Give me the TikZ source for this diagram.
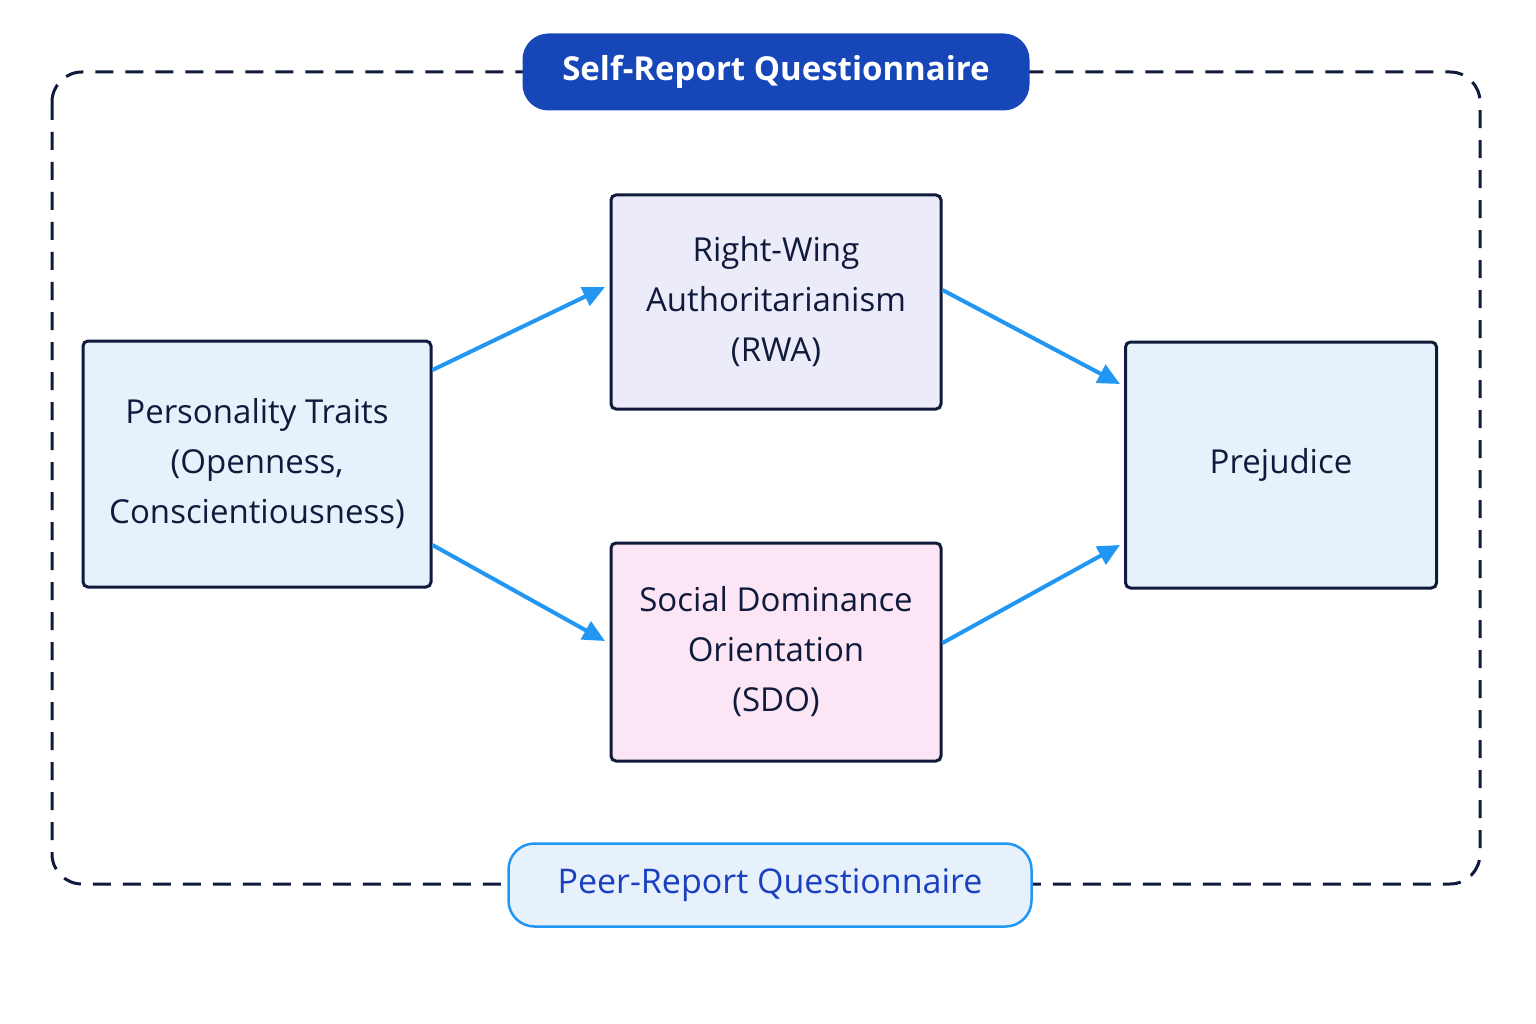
\documentclass[tikz,border=0pt]{standalone}
\usepackage{fontspec}
\setmainfont{Open Sans}
\usetikzlibrary{arrows.meta}
\definecolor{navy}{HTML}{101B3C}
\definecolor{dblue}{HTML}{1746B8}
\definecolor{arr}{HTML}{2196F3}
\definecolor{lblue}{HTML}{E6F1FC}
\definecolor{lpurp}{HTML}{ECEBFA}
\definecolor{lpink}{HTML}{FCE6F6}
\definecolor{pblue}{HTML}{1A3FBF}
\begin{document}
\begin{tikzpicture}[x=1pt,y=-1pt,
  box/.style={draw=navy,line width=3pt,rounded corners=5pt,text=navy,align=center,font=\fontsize{33}{50}\selectfont,inner sep=0pt},
  conn/.style={draw=arr,line width=4pt,-{Triangle[length=22pt,width=20pt]}}]
\fill[white] (0,0) rectangle (1536,1024);
\draw[navy,line width=3pt,dash pattern=on 18pt off 12pt,rounded corners=30pt] (52,72) rectangle (1480,884);
\node[box,fill=lblue,minimum width=348pt,minimum height=246pt] (pt) at (257,464) {Personality Traits\\(Openness,\\Conscientiousness)};
\node[box,fill=lpurp,minimum width=330pt,minimum height=214pt] (rwa) at (776,302) {Right-Wing\\Authoritarianism\\(RWA)};
\node[box,fill=lpink,minimum width=330pt,minimum height=218pt] (sdo) at (776,652) {Social Dominance\\Orientation\\(SDO)};
\node[box,fill=lblue,minimum width=311pt,minimum height=246pt] (pr) at (1281,465) {Prejudice};
\node[fill=dblue,text=white,rounded corners=26pt,minimum width=507pt,minimum height=77pt,font=\fontsize{33}{40}\selectfont\bfseries] (self) at (776,72) {Self-Report Questionnaire};
\node[fill=lblue,draw=arr,line width=2.5pt,text=pblue,rounded corners=26pt,minimum width=523pt,minimum height=83pt,font=\fontsize{34}{40}\selectfont] (peer) at (770,885) {Peer-Report Questionnaire};
\draw[conn] (pt.east|-0,370) -- (605,287) coordinate (a1);
\draw[conn] (pt.east|-0,545) -- (605,641) coordinate (a2);
\draw[conn] (rwa.east|-0,290) -- (1120,384) coordinate (a3);
\draw[conn] (sdo.east|-0,643) -- (1120,545) coordinate (a4);
\end{tikzpicture}
\end{document}
